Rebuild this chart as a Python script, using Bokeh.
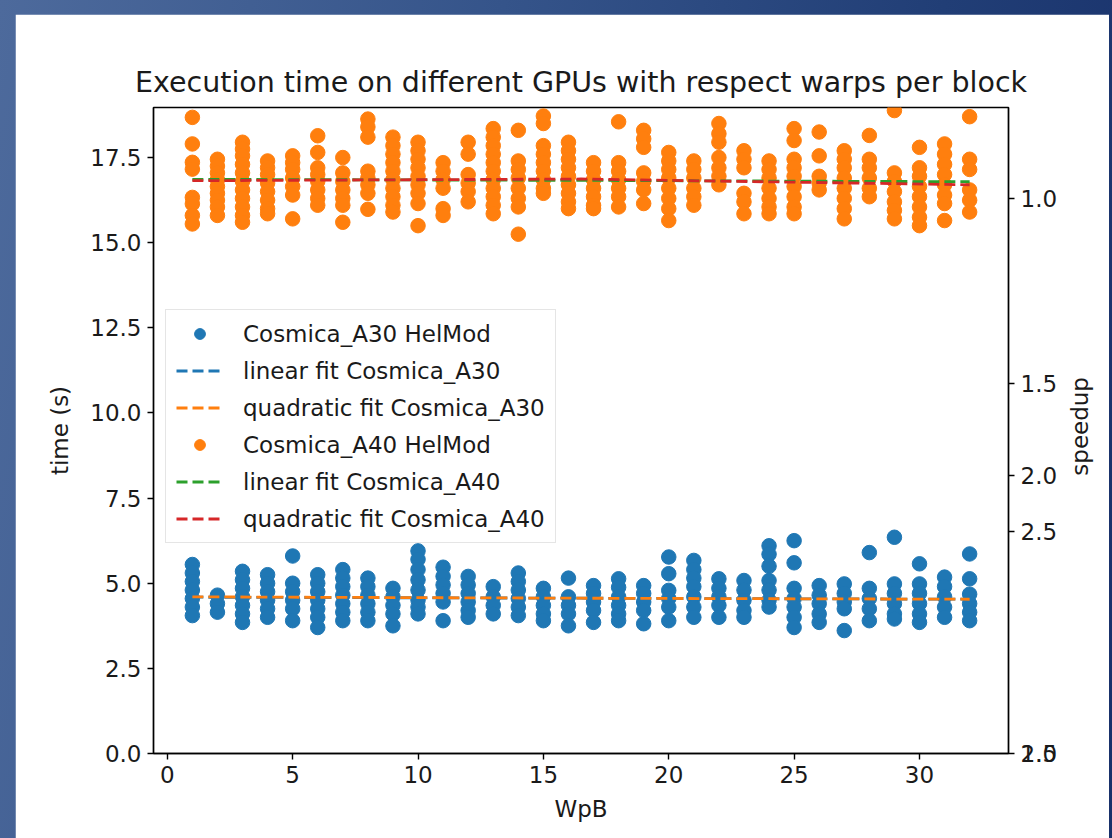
import math
from bokeh.plotting import figure
from bokeh.models import Range1d, LinearAxis, FixedTicker, NumeralTickFormatter, CustomJSTickFormatter
from bokeh.embed import file_html
from bokeh.resources import INLINE

FONT = "DejaVu Sans"

# warps per block
wpb = [1, 2, 3, 4, 5, 6, 7, 8, 9, 10, 11, 12, 13, 14, 15, 16,
       17, 18, 19, 20, 21, 22, 23, 24, 25, 26, 27, 28, 29, 30, 31, 32]

# execution times (s) of the repeated runs, one list per WpB value
a30_times = [
    [5.55, 5.3, 5.05, 4.8, 4.55, 4.3, 4.05],
    [4.65, 4.4, 4.15],
    [5.35, 5.1, 4.85, 4.6, 4.35, 4.1, 3.85],
    [5.25, 5.0, 4.75, 4.5, 4.25, 4.0],
    [5.8, 5.0, 4.75, 4.5, 4.25, 3.9],
    [5.25, 5.0, 4.75, 4.5, 4.25, 4.0, 3.7],
    [5.4, 5.15, 4.9, 4.65, 4.4, 4.15, 3.9],
    [5.15, 4.9, 4.65, 4.4, 4.15, 3.9],
    [4.85, 4.6, 4.35, 4.1, 3.75],
    [5.95, 5.7, 5.4, 5.1, 4.8, 4.5, 4.3, 4.1],
    [5.47, 5.2, 4.95, 4.7, 4.45, 3.9],
    [5.2, 4.95, 4.7, 4.45, 4.2, 4.0],
    [4.9, 4.6, 4.35, 4.1],
    [5.3, 5.05, 4.8, 4.55, 4.3, 4.05],
    [4.85, 4.6, 4.35, 4.1, 3.9],
    [5.15, 4.6, 4.35, 4.1, 3.75],
    [4.93, 4.7, 4.45, 4.2, 3.85],
    [5.13, 4.88, 4.6, 4.35, 4.1, 3.9],
    [4.93, 4.7, 4.45, 4.2, 3.81],
    [5.77, 5.28, 4.79, 4.55, 4.3, 3.9],
    [5.67, 5.4, 5.15, 4.9, 4.6, 4.3, 4.0],
    [5.13, 4.85, 4.6, 4.35, 4.0],
    [5.08, 4.8, 4.5, 4.2, 4.0],
    [6.1, 5.85, 5.5, 5.08, 4.8, 4.5, 4.3],
    [6.25, 5.6, 4.85, 4.55, 4.3, 4.0, 3.7],
    [4.93, 4.65, 4.4, 4.1, 3.85],
    [4.98, 4.7, 4.45, 4.25, 3.61],
    [5.9, 4.85, 4.55, 4.25, 3.9],
    [6.35, 4.98, 4.7, 4.4, 4.1, 3.95],
    [5.57, 4.98, 4.7, 4.4, 4.1, 3.85],
    [5.18, 4.9, 4.6, 4.3, 4.0],
    [5.86, 5.13, 4.68, 4.4, 4.15, 3.9],
]

a40_times = [
    [18.68, 17.90, 17.36, 17.16, 16.33, 16.14, 15.80, 15.55],
    [17.45, 17.25, 17.05, 16.85, 16.65, 16.45, 16.25, 16.05, 15.8],
    [17.95, 17.75, 17.55, 17.3, 17.05, 16.8, 16.55, 16.3, 16.05, 15.8, 15.6],
    [17.4, 17.2, 17.0, 16.75, 16.5, 16.25, 16.0, 15.85],
    [17.55, 17.35, 17.15, 16.9, 16.65, 16.4, 15.7],
    [18.14, 17.65, 17.2, 17.0, 16.8, 16.55, 16.3, 16.1],
    [17.5, 17.05, 16.8, 16.55, 16.3, 16.1, 15.6],
    [18.63, 18.4, 18.1, 17.1, 16.9, 16.7, 16.45, 15.98],
    [18.1, 17.85, 17.6, 17.35, 17.1, 16.85, 16.6, 16.35, 16.1, 15.9],
    [17.95, 17.7, 17.45, 17.2, 16.95, 16.7, 16.45, 16.15, 15.5],
    [17.35, 17.1, 16.85, 16.6, 16.0, 15.8],
    [17.95, 17.6, 17.0, 16.75, 16.5, 16.2],
    [18.35, 18.1, 17.85, 17.6, 17.35, 17.1, 16.85, 16.6, 16.35, 16.1, 15.85],
    [18.3, 17.4, 17.15, 16.9, 16.6, 16.3, 16.05, 15.25],
    [18.72, 18.5, 17.85, 17.6, 17.35, 17.1, 16.85, 16.6, 16.45],
    [17.95, 17.7, 17.45, 17.2, 16.95, 16.7, 16.45, 16.2, 16.0],
    [17.35, 17.1, 16.85, 16.6, 16.35, 16.1, 16.0],
    [18.55, 17.35, 17.1, 16.85, 16.6, 16.35, 16.05],
    [18.3, 18.05, 17.8, 17.05, 16.8, 16.55, 16.15],
    [17.65, 17.4, 17.15, 16.9, 16.6, 16.3, 16.0, 15.65],
    [17.4, 17.15, 16.9, 16.6, 16.35, 16.1],
    [18.5, 18.2, 17.95, 17.5, 17.2, 16.95, 16.7],
    [17.7, 17.45, 17.2, 16.45, 16.2, 15.85],
    [17.4, 17.15, 16.9, 16.6, 16.3, 16.05, 15.85],
    [18.35, 18.0, 17.45, 17.2, 16.95, 16.65, 16.35, 16.05, 15.85],
    [18.25, 17.55, 16.95, 16.75, 16.55],
    [17.7, 17.45, 17.2, 16.9, 16.6, 16.3, 16.0, 15.7],
    [18.15, 17.45, 17.2, 16.9, 16.6, 16.35],
    [18.88, 17.05, 16.8, 16.5, 16.2, 15.95, 15.7],
    [17.8, 17.2, 16.95, 16.65, 16.35, 16.05, 15.75, 15.5],
    [17.9, 17.6, 17.3, 17.0, 16.7, 16.4, 16.15, 15.65],
    [18.7, 17.45, 17.15, 16.55, 16.25, 15.9],
]

# fitted curves, sampled at the first, middle and last WpB
fit_wpb = [1, 16.5, 32]
a30_linear_fit = [4.59, 4.56, 4.53]
a30_quadratic_fit = [4.60, 4.56, 4.53]
a40_linear_fit = [16.86, 16.83, 16.79]
a40_quadratic_fit = [16.82, 16.87, 16.70]

# left axis ticks (time) and right axis ticks (speedup, placed on the time scale)
time_ticks = [0.0, 2.5, 5.0, 7.5, 10.0, 12.5, 15.0, 17.5]
x_ticks = [0, 5, 10, 15, 20, 25, 30]
speedup_tick_pos = [0.0, 0.0001, 6.52, 8.15, 10.87, 16.3]
speedup_tick_labels = ["1.5", "2.0", "2.5", "2.0", "1.5", "1.0"]

BLUE, ORANGE, GREEN, RED = "#1f77b4", "#ff7f0e", "#2ca02c", "#d62728"
TEXT = "#1a1a1a"


def flatten(columns):
    xs, ys = [], []
    for w, vals in zip(wpb, columns):
        xs.extend([w] * len(vals))
        ys.extend(vals)
    return xs, ys


x30, y30 = flatten(a30_times)
x40, y40 = flatten(a40_times)

p = figure(
    title="Execution time on different GPUs with respect warps per block",
    frame_width=855, frame_height=646,
    x_range=Range1d(-0.55, 33.55), y_range=Range1d(0, 18.97),
    min_border_left=138, min_border_right=96, min_border_top=93, min_border_bottom=85,
    output_backend="svg", toolbar_location=None,
)
p.background_fill_color = "white"
p.border_fill_color = "white"
p.outline_line_color = "black"
p.outline_line_width = 1.4
p.xgrid.visible = False
p.ygrid.visible = False

p.title.text_font = FONT
p.title.text_font_size = "28.5px"
p.title.text_font_style = "normal"
p.title.text_color = TEXT
p.title.align = "center"
p.title.standoff = 18

DASH = "11 5"
# A30 series and fits
p.scatter(x30, y30, size=14.5, color=BLUE, legend_label="Cosmica_A30 HelMod")
p.line(fit_wpb, a30_linear_fit, line_color=BLUE, line_width=2.8,
       line_dash=DASH, legend_label="linear fit Cosmica_A30")
p.line(fit_wpb, a30_quadratic_fit, line_color=ORANGE, line_width=2.8,
       line_dash=DASH, legend_label="quadratic fit Cosmica_A30")
# A40 series and fits
p.scatter(x40, y40, size=14.5, color=ORANGE, legend_label="Cosmica_A40 HelMod")
p.line(fit_wpb, a40_linear_fit, line_color=GREEN, line_width=2.8,
       line_dash=DASH, legend_label="linear fit Cosmica_A40")
p.line(fit_wpb, a40_quadratic_fit, line_color=RED, line_width=2.8,
       line_dash=DASH, legend_label="quadratic fit Cosmica_A40")

# axes
p.xaxis.ticker = FixedTicker(ticks=x_ticks)
p.yaxis.ticker = FixedTicker(ticks=time_ticks)
p.yaxis.formatter = NumeralTickFormatter(format="0.0")
p.xaxis.axis_label = "WpB"
p.yaxis.axis_label = "time (s)"

right = LinearAxis(
    ticker=FixedTicker(ticks=speedup_tick_pos),
    formatter=CustomJSTickFormatter(args=dict(labels=speedup_tick_labels),
                                    code="return labels[index];"),
    axis_label="speedup",
)
props = right.properties()
if "axis_label_orientation" in props:
    # read the right-hand title from bottom to top
    right.axis_label_orientation = math.pi / 2
    if "axis_label_align" in props:
        # a rotated title starts at its anchor, so anchor it at the bottom
        # and pad it up to the middle of the axis with no-break spaces
        right.axis_label_align = "start"
        right.axis_label = "\u00a0" * 38 + "speedup"
p.add_layout(right, "right")

for ax in [p.xaxis[0], p.yaxis[0], right]:
    ax.axis_line_color = "black"
    ax.axis_line_width = 1.4
    ax.major_tick_line_color = "black"
    ax.major_tick_line_width = 1.4
    ax.major_tick_out = 6
    ax.major_tick_in = 0
    ax.minor_tick_out = 0
    ax.minor_tick_in = 0
    ax.major_label_standoff = 6
    ax.major_label_text_font = FONT
    ax.major_label_text_font_size = "23px"
    ax.major_label_text_color = TEXT
    ax.axis_label_text_font = FONT
    ax.axis_label_text_font_size = "23px"
    ax.axis_label_text_font_style = "normal"
    ax.axis_label_text_color = TEXT
p.xaxis[0].axis_label_standoff = 10
p.yaxis[0].axis_label_standoff = 14
right.axis_label_standoff = 20

# legend
lg = p.legend[0]
lg.location = (12, 210)
lg.label_text_font = FONT
lg.label_text_font_size = "23px"
lg.label_text_color = TEXT
lg.glyph_width = 47
lg.glyph_height = 27
lg.label_height = 27
lg.label_standoff = 20
lg.spacing = 10
lg.padding = 10
lg.margin = 0
lg.border_line_color = "#cccccc"
lg.border_line_width = 1.2
lg.background_fill_color = "white"
lg.background_fill_alpha = 0.8

html = file_html(p, INLINE, title="Execution time")
page_style = (
    "<style>html,body{margin:0 !important;}"
    "body{padding:14px 0 0 15px !important;box-sizing:border-box;height:838px;"
    "background:linear-gradient(100deg,#4d6a9c 0%,#35548a 40%,#213e76 75%,#18306a 100%) !important;}"
    "</style>"
)
html = html.replace("</head>", page_style + "</head>", 1)
open("out.html", "w").write(html)
